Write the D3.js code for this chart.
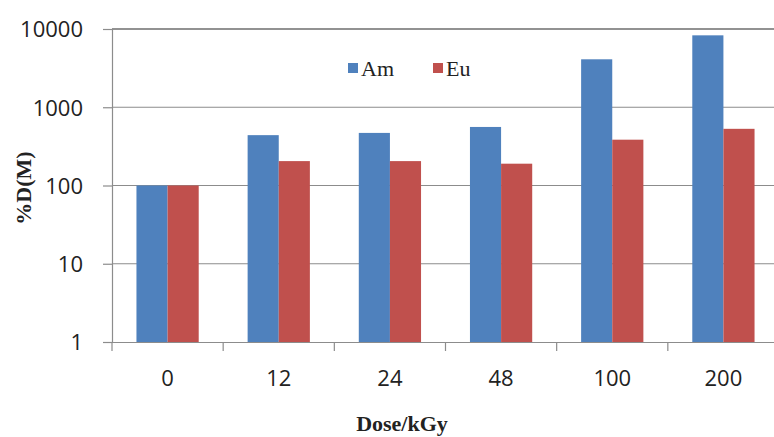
<!DOCTYPE html>
<html>
<head>
<meta charset="utf-8">
<script src="https://cdn.jsdelivr.net/npm/d3@7"></script>
<style>
  body { margin: 0; background: #fff; }
  svg { display: block; }
  .tick text { font-family: "Open Sans", sans-serif; font-size: 22px; fill: #222; }
</style>
</head>
<body>
<div id="chart"></div>
<script>
var doses = ["0", "12", "24", "48", "100", "200"];
var amValues = [100, 440, 470, 560, 4100, 8300];
var euValues = [100, 205, 205, 190, 385, 530];
var seriesNames = ["Am", "Eu"];
var yTicks = [1, 10, 100, 1000, 10000];

var width = 774, height = 437;
var margin = {top: 29, right: -5, bottom: 95, left: 112};
var pltwidth = width - margin.left - margin.right,
    pltheight = height - margin.top - margin.bottom;

var colors = {Am: "#4f81bd", Eu: "#c0504d"};

var rows = doses.map(function(d, i) {
  return {dose: d, Am: amValues[i], Eu: euValues[i]};
});

var svg = d3.select("#chart").append("svg")
    .attr("width", width)
    .attr("height", height);

var g = svg.append("g")
    .attr("transform", "translate(" + margin.left + "," + margin.top + ")");

var xScale = d3.scaleBand()
    .domain(doses)
    .range([0, pltwidth])
    .paddingInner(0.44)
    .paddingOuter(0.22);

var xOuter = d3.scaleBand().domain(doses).range([0, pltwidth]);

var xSub = d3.scaleBand()
    .domain(seriesNames)
    .range([0, xScale.bandwidth()]);

var yScale = d3.scaleLog()
    .domain([1, 10000])
    .range([pltheight, 0]);

// gridlines
g.selectAll(".grid")
    .data(yTicks.slice(1))
  .enter().append("line")
    .attr("class", "grid")
    .attr("x1", 0)
    .attr("x2", pltwidth)
    .attr("y1", function(d) { return yScale(d); })
    .attr("y2", function(d) { return yScale(d); })
    .attr("stroke", function(d) { return d === 10000 ? "#6e6e6e" : "#8c8c8c"; })
    .attr("stroke-width", function(d) { return d === 10000 ? 1.6 : 1.2; });

// bars
var groups = g.selectAll(".grp")
    .data(rows)
  .enter().append("g")
    .attr("class", "grp")
    .attr("transform", function(d) { return "translate(" + xScale(d.dose) + ",0)"; });

groups.selectAll("rect")
    .data(function(d) { return seriesNames.map(function(k) { return {key: k, value: d[k]}; }); })
  .enter().append("rect")
    .attr("x", function(d) { return xSub(d.key); })
    .attr("width", xSub.bandwidth())
    .attr("y", function(d) { return yScale(d.value); })
    .attr("height", function(d) { return pltheight - yScale(d.value); })
    .attr("fill", function(d) { return colors[d.key]; });

// y axis
var yAxis = g.append("g")
    .call(d3.axisLeft(yScale).tickValues(yTicks).tickFormat(d3.format("d")).tickSize(9).tickPadding(20));
yAxis.select(".domain").attr("stroke", "#8c8c8c").attr("stroke-width", 1.2);
yAxis.selectAll(".tick line").attr("stroke", "#8c8c8c").attr("stroke-width", 1.2);
yAxis.selectAll(".tick text").attr("dy", "0.36em");

// x axis
var xAxis = g.append("g")
    .attr("transform", "translate(0," + pltheight + ")")
    .call(d3.axisBottom(xScale).tickSize(0).tickPadding(28));
xAxis.select(".domain").attr("stroke", "#8c8c8c").attr("stroke-width", 1.2);

xAxis.selectAll(".sep")
    .data(doses)
  .enter().append("line")
    .attr("class", "sep")
    .attr("x1", function(d) { return xOuter(d); })
    .attr("x2", function(d) { return xOuter(d); })
    .attr("y1", 0)
    .attr("y2", 9)
    .attr("stroke", "#8c8c8c")
    .attr("stroke-width", 1.2);

// axis titles
svg.append("text")
    .attr("x", 402)
    .attr("y", 431)
    .attr("text-anchor", "middle")
    .style("font-family", "'Liberation Serif', 'Times New Roman', serif")
    .style("font-weight", "bold")
    .style("font-size", "22px")
    .attr("fill", "#222")
    .text("Dose/kGy");

svg.append("text")
    .attr("transform", "translate(31,188) rotate(-90)")
    .attr("text-anchor", "middle")
    .style("font-family", "'Liberation Serif', 'Times New Roman', serif")
    .style("font-weight", "bold")
    .style("font-size", "22px")
    .attr("fill", "#222")
    .text("%D(M)");

// legend
var legendX = [348, 433];
var legend = svg.selectAll(".leg")
    .data(seriesNames)
  .enter().append("g")
    .attr("class", "leg")
    .attr("transform", function(d, i) { return "translate(" + legendX[i] + ",63)"; });

legend.append("rect")
    .attr("width", 10)
    .attr("height", 10)
    .attr("fill", function(d) { return colors[d]; });

legend.append("text")
    .attr("x", 13)
    .attr("y", 13)
    .style("font-family", "'Liberation Serif', 'Times New Roman', serif")
    .style("font-size", "22px")
    .attr("fill", "#222")
    .text(function(d) { return d; });
</script>
</body>
</html>
